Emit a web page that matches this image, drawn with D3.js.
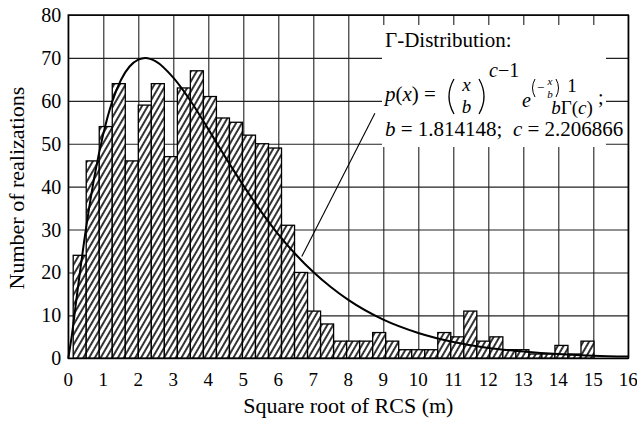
<!DOCTYPE html>
<html><head><meta charset="utf-8">
<script src="https://cdn.jsdelivr.net/npm/d3@7"></script>
<style>body{margin:0;background:#fff}</style>
</head><body>
<svg id="c" width="637" height="421"></svg>
<script>
// histogram counts (1000 realizations), bins start at 0.14 with width 0.372
const counts = [24,46,54,64,46,59,64,47,63,67,61,56,55,52,50,49,31,20,11,8,4,4,4,6,4,2,2,2,6,5,11,4,5,2,2,1,1,3,1,4];
const binStart = 0.14;
const binWidth = 0.372;
// fitted Gamma curve
const curveX = [0,0.1,0.25,0.5,0.75,1,1.25,1.5,1.75,2,2.2,2.5,3,3.5,4,4.5,5,5.5,6,6.5,7,7.5,8,9,10,11,12,13,14,15,16];
const curveY = [0,5.3,14.9,29.9,42.5,52.3,59.7,64.8,68.0,69.6,70.0,69.2,65.4,59.9,53.4,46.7,40.3,34.3,28.9,24.2,20.1,16.6,13.6,9.0,5.9,3.8,2.4,1.6,1.0,0.6,0.4];
const xTicks = [0,1,2,3,4,5,6,7,8,9,10,11,12,13,14,15,16];
const yTicks = [0,10,20,30,40,50,60,70,80];
const xTitle = "Square root of RCS (m)";
const yTitle = "Number of realizations";
const leader = [[6.67,23.7],[8.76,57.1]];

const W=637,H=421, m={l:68.3,r:8.7,t:15,b:62.7};
const svg=d3.select("#c");
const font="'Liberation Serif','Times New Roman',serif";
const x=d3.scaleLinear().domain([0,16]).range([m.l,W-m.r]);
const y=d3.scaleLinear().domain([0,80]).range([H-m.b,m.t]);

const defs=svg.append("defs");
const pat=defs.append("pattern").attr("id","hatch").attr("patternUnits","userSpaceOnUse")
  .attr("width",5).attr("height",5).attr("patternTransform","rotate(30)");
pat.append("rect").attr("width",5).attr("height",5).attr("fill","#fff");
pat.append("line").attr("x1",1).attr("y1",0).attr("x2",1).attr("y2",5).attr("stroke","#000").attr("stroke-width",1.6);

// grid
const g=svg.append("g");
g.append("g").attr("transform",`translate(0,${y(0)})`)
 .call(d3.axisBottom(x).tickValues(xTicks).tickSize(-(y(0)-y(80))).tickFormat(""))
 .call(s=>{s.select(".domain").remove();s.selectAll("line").attr("stroke","#222").attr("stroke-width",1.1);});
g.append("g").attr("transform",`translate(${x(0)},0)`)
 .call(d3.axisLeft(y).tickValues(yTicks).tickSize(-(x(16)-x(0))).tickFormat(""))
 .call(s=>{s.select(".domain").remove();s.selectAll("line").attr("stroke","#222").attr("stroke-width",1.1);});

// annotation box background
svg.append("rect").attr("x",382).attr("y",25).attr("width",224).attr("height",122).attr("fill","#fff");

// bars
svg.append("g").selectAll("rect").data(counts).join("rect")
 .attr("x",(d,i)=>x(binStart+i*binWidth)).attr("y",d=>y(d))
 .attr("width",x(binWidth)-x(0)).attr("height",d=>y(0)-y(d))
 .attr("fill","url(#hatch)").attr("stroke","#000").attr("stroke-width",1.3);

// curve
const pts=curveX.map((v,i)=>[v,curveY[i]]);
svg.append("path").datum(pts).attr("fill","none").attr("stroke","#000").attr("stroke-width",2)
 .attr("d",d3.line().x(d=>x(d[0])).y(d=>y(d[1])).curve(d3.curveMonotoneX));

// leader line
svg.append("line").attr("x1",x(leader[0][0])).attr("y1",y(leader[0][1]))
 .attr("x2",x(leader[1][0])).attr("y2",y(leader[1][1])).attr("stroke","#000").attr("stroke-width",1.1);

// frame
svg.append("rect").attr("x",x(0)).attr("y",y(80)).attr("width",x(16)-x(0)).attr("height",y(0)-y(80))
 .attr("fill","none").attr("stroke","#000").attr("stroke-width",1.5);

// tick labels
svg.append("g").selectAll("text").data(xTicks).join("text")
 .attr("x",d=>x(d)).attr("y",y(0)+28).attr("text-anchor","middle")
 .attr("font-family",font).attr("font-size",19).text(d=>d);
svg.append("g").selectAll("text").data(yTicks).join("text")
 .attr("x",x(0)-7).attr("y",d=>y(d)+7).attr("text-anchor","end")
 .attr("font-family",font).attr("font-size",20).text(d=>d);
svg.append("text").attr("x",(x(0)+x(16))/2).attr("y",413).attr("text-anchor","middle")
 .attr("font-family",font).attr("font-size",22).text(xTitle);
svg.append("text").attr("transform",`translate(24,188) rotate(-90)`).attr("text-anchor","middle")
 .attr("font-family",font).attr("font-size",22).text(yTitle);

// annotation text
const T=(px,py,size,anchor)=>svg.append("text").attr("x",px).attr("y",py).attr("font-family",font)
  .attr("font-size",size).attr("text-anchor",anchor||"start");
T(385,47,21).text("Γ-Distribution:");
let t=T(385,101,21);
t.append("tspan").attr("font-style","italic").text("p");
t.append("tspan").text("(");
t.append("tspan").attr("font-style","italic").text("x");
t.append("tspan").text(") =");
const P=(dd,w)=>svg.append("path").attr("d",dd).attr("fill","none").attr("stroke","#000").attr("stroke-width",w||1.3);
P("M454,79 Q444,96.5 454,114");
P("M479,79 Q489,96.5 479,114");
T(466.5,91,19,"middle").attr("font-style","italic").text("x");
T(466.5,113,19,"middle").attr("font-style","italic").text("b");
t=T(489,77,20);
t.append("tspan").attr("font-style","italic").text("c");
t.append("tspan").text("−1");
T(522,107,20).attr("font-style","italic").text("e");
P("M535,79 Q530,88 535,97",1);
P("M556,79 Q561,88 556,97",1);
T(537,92,13).text("−");
T(550,85,11,"middle").attr("font-style","italic").text("x");
T(550,97.5,11,"middle").attr("font-style","italic").text("b");
T(572,92,19,"middle").text("1");
t=T(572,114,19,"middle");
t.append("tspan").attr("font-style","italic").text("b");
t.append("tspan").text("Γ(");
t.append("tspan").attr("font-style","italic").text("c");
t.append("tspan").text(")");
T(598,104,20).text(";");
t=T(385,136,21);
t.append("tspan").attr("font-style","italic").text("b");
t.append("tspan").text("\u00a0=\u00a01.814148;\u00a0\u00a0");
t.append("tspan").attr("font-style","italic").text("c");
t.append("tspan").text("\u00a0=\u00a02.206866");
</script>
</body></html>
